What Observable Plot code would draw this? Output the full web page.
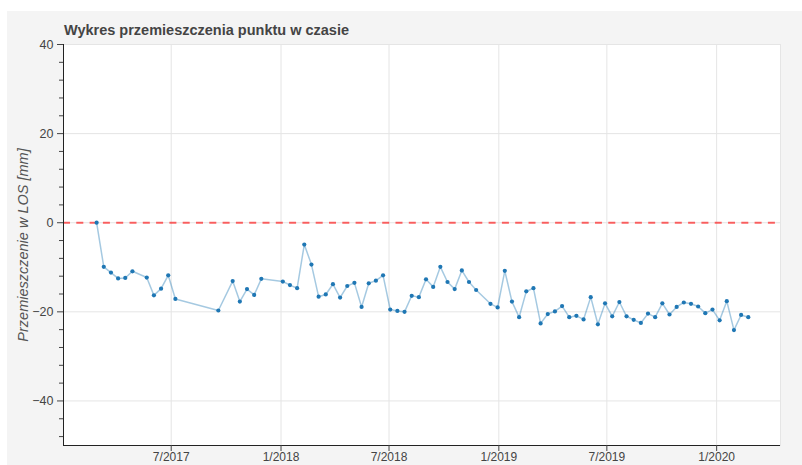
<!DOCTYPE html>
<html><head><meta charset="utf-8">
<script src="https://cdn.jsdelivr.net/npm/d3@7"></script>
<script src="https://cdn.jsdelivr.net/npm/@observablehq/plot@0.6"></script>
<style>
html,body{margin:0;padding:0;background:#fff;width:802px;height:465px;overflow:hidden;font-family:"Liberation Sans",Arial,sans-serif}
#bg{position:absolute;left:7px;top:11px;right:0;bottom:0;background:#f4f4f4}
#chart{position:absolute;left:0;top:0}
#title{position:absolute;left:64px;top:23px;font:bold 14.5px/1 "Liberation Sans",Arial,sans-serif;color:#444;white-space:nowrap}
</style></head><body>
<div id="bg"></div>
<div id="chart"></div>
<div id="title">Wykres przemieszczenia punktu w czasie</div>
<script>
const dates = [
"2017-02-26","2017-03-10","2017-03-22","2017-04-03","2017-04-15","2017-04-27","2017-05-21","2017-06-02","2017-06-14","2017-06-26",
"2017-07-08","2017-09-18","2017-10-12","2017-10-24","2017-11-05","2017-11-17","2017-11-29",
"2018-01-04","2018-01-16","2018-01-28","2018-02-09","2018-02-21","2018-03-05","2018-03-17","2018-03-29","2018-04-10","2018-04-22",
"2018-05-04","2018-05-16","2018-05-28","2018-06-09","2018-06-21","2018-07-03","2018-07-15","2018-07-27","2018-08-08","2018-08-20",
"2018-09-01","2018-09-13","2018-09-25","2018-10-07","2018-10-19","2018-10-31","2018-11-12","2018-11-24","2018-12-18","2018-12-30",
"2019-01-11","2019-01-23","2019-02-04","2019-02-16","2019-02-28","2019-03-12","2019-03-24","2019-04-05","2019-04-17","2019-04-29",
"2019-05-11","2019-05-23","2019-06-04","2019-06-16","2019-06-28","2019-07-10","2019-07-22","2019-08-03","2019-08-15","2019-08-27",
"2019-09-08","2019-09-20","2019-10-02","2019-10-14","2019-10-26","2019-11-07","2019-11-19","2019-12-01","2019-12-13","2019-12-25",
"2020-01-06","2020-01-18","2020-01-30","2020-02-11","2020-02-23"
];
const values = [
0,-9.9,-11.2,-12.5,-12.4,-10.9,-12.3,-16.3,-14.8,-11.8,
-17.1,-19.7,-13.1,-17.7,-14.9,-16.2,-12.6,
-13.2,-14.0,-14.7,-4.9,-9.4,-16.6,-16.1,-13.8,-16.8,-14.2,
-13.5,-18.9,-13.6,-13.0,-11.8,-19.5,-19.8,-20.0,-16.4,-16.7,
-12.7,-14.4,-9.9,-13.3,-14.9,-10.7,-13.3,-15.1,-18.2,-19.0,
-10.8,-17.7,-21.2,-15.4,-14.7,-22.6,-20.5,-19.9,-18.7,-21.2,
-20.9,-21.7,-16.7,-22.8,-18.1,-21.0,-17.8,-21.0,-21.8,-22.5,
-20.4,-21.2,-18.1,-20.6,-18.9,-17.9,-18.2,-18.8,-20.3,-19.5,
-21.9,-17.6,-24.1,-20.7,-21.2
];
const xTicks = ["2017-07-01","2018-01-01","2018-07-01","2019-01-01","2019-07-01","2020-01-01"];
const yTicks = [-40,-20,0,20,40];
const yMinorTicks = [-48,-44,-36,-32,-28,-24,-16,-12,-8,-4,4,8,12,16,24,28,32,36];
const xDomain = ["2017-01-01T12:00:00Z","2020-04-17T00:00:00Z"];
const yDomain = [-50,40];
const referenceLevel = [0];
const yLabel = "Przemieszczenie w LOS [mm]";

const parse = s => new Date(s.length === 10 ? s + "T00:00:00Z" : s);
const data = dates.map((d,i) => ({date: parse(d), value: values[i]}));
const xTickDates = xTicks.map(parse);
const fmt = d => `${d.getUTCMonth()+1}/${d.getUTCFullYear()}`;

const chart = Plot.plot({
  width: 802,
  height: 465,
  marginLeft: 63,
  marginRight: 22,
  marginTop: 44,
  marginBottom: 20,
  style: {background: "transparent", fontFamily: '"Liberation Sans", Arial, sans-serif', fontSize: "12px", color: "#333"},
  x: {type: "utc", domain: xDomain.map(parse)},
  y: {domain: yDomain},
  marks: [
    Plot.frame({fill: "white", stroke: "#e5e5e5"}),
    Plot.gridX(xTickDates, {stroke: "#e5e5e5", strokeOpacity: 1}),
    Plot.gridY(yTicks, {stroke: "#e5e5e5", strokeOpacity: 1}),
    Plot.ruleY(referenceLevel, {stroke: "red", strokeOpacity: 0.6, strokeWidth: 2, strokeDasharray: "7,6.3"}),
    Plot.line(data, {x: "date", y: "value", stroke: "#1f77b4", strokeOpacity: 0.4, strokeWidth: 1.5}),
    Plot.dot(data, {x: "date", y: "value", r: 2.1, fill: "#1f77b4", stroke: "none"}),
    Plot.ruleX([parse(xDomain[0])], {stroke: "#222"}),
    Plot.ruleY([yDomain[0]], {stroke: "#222"}),
    Plot.axisX({ticks: xTickDates, tickFormat: fmt, tickSize: 6, tickPadding: 1, label: null, color: "#444"}),
    Plot.axisY({ticks: yTicks, tickSize: 6, tickPadding: 4, label: null, color: "#444", fontSize: 12.5}),
    Plot.axisY({ticks: yMinorTicks, tickSize: 4, tickFormat: () => "", label: null, color: "#444"}),
    Plot.text([yLabel], {text: d => d, frameAnchor: "left", rotate: -90, dx: -40, textAnchor: "middle", fontStyle: "italic", fontSize: 14.5, fill: "#555"})
  ]
});
document.getElementById("chart").appendChild(chart);
</script>
</body></html>
